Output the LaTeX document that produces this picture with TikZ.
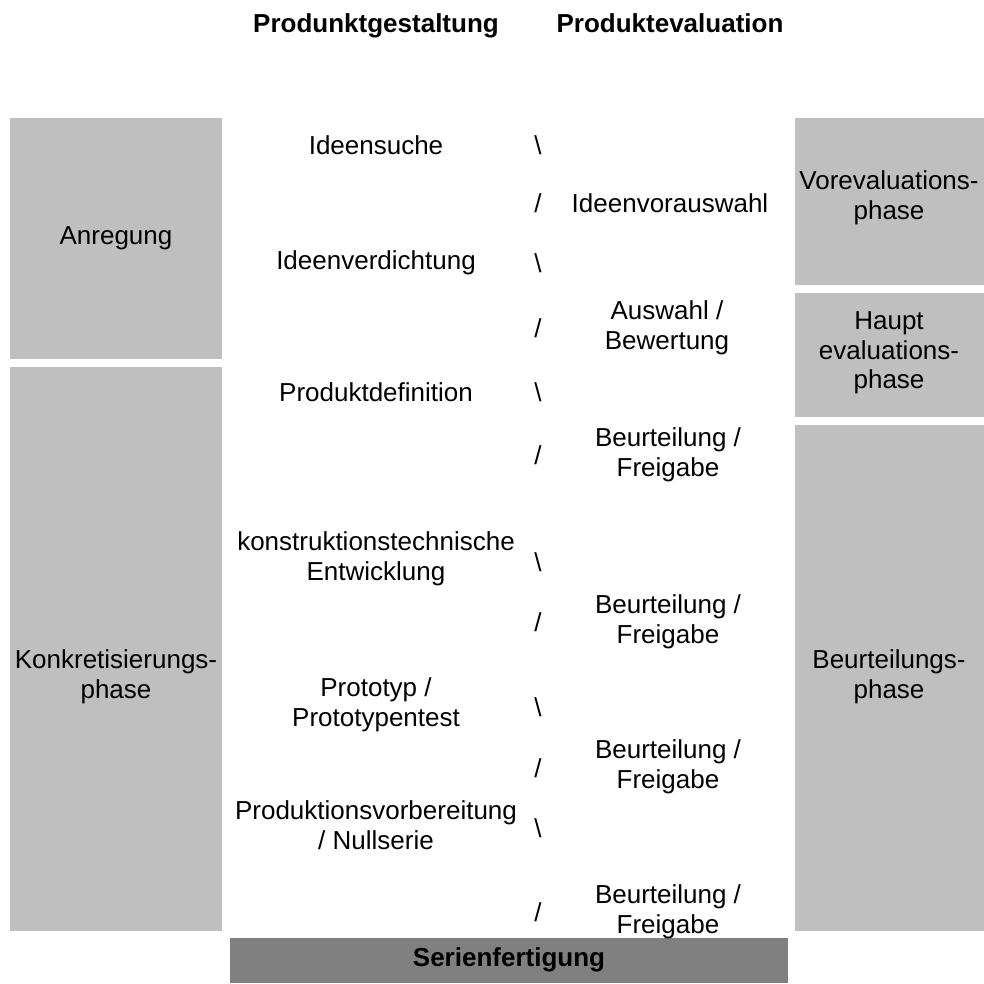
\documentclass[tikz,border=0pt]{standalone}
\usepackage{fontspec}
\setmainfont{Liberation Sans}
\begin{document}
\begin{tikzpicture}[x=1pt,y=-1pt,
  lightbox/.style={fill=black!25, draw=none},
  darkbox/.style={fill=black!50, draw=none},
  lbl/.style={inner sep=0pt, align=center, font=\fontsize{26}{29.5}\selectfont},
  hdr/.style={inner sep=0pt, align=center, font=\fontsize{26}{29.5}\selectfont\bfseries},
  zigmark/.style={inner sep=0pt, font=\fontsize{26}{29.5}\selectfont}]
\useasboundingbox (0,0) rectangle (984,983);

% phase bars, left side
\fill[lightbox] (10,118) rectangle (222,359);
\fill[lightbox] (10,367) rectangle (222,931);
% phase bars, right side
\fill[lightbox] (795,118) rectangle (984,285);
\fill[lightbox] (795,293) rectangle (984,417);
\fill[lightbox] (795,425) rectangle (984,931);
% final stage
\fill[darkbox] (230,938) rectangle (788,983);

% column headings
\node[hdr, anchor=base] (hgest) at (376,32) {Produnktgestaltung};
\node[hdr, anchor=base] (heval) at (670,32) {Produktevaluation};

% phase labels
\node[lbl] (anr) at (116,238) {Anregung};
\node[lbl] (konk) at (116,677) {Konkretisierungs-\\phase};
\node[lbl] (vor) at (889,198) {Vorevaluations-\\phase};
\node[lbl] (haupt) at (889,353) {Haupt\\evaluations-\\phase};
\node[lbl] (beur) at (889,677) {Beurteilungs-\\phase};
\node[hdr] (serie) at (509,960) {Serienfertigung};

% design steps
\node[lbl] (g1) at (376,145) {Ideensuche};
\node[lbl] (g2) at (376,263) {Ideenverdichtung};
\node[lbl] (g3) at (376,392) {Produktdefinition};
\node[lbl] (g4) at (376,559) {konstruktionstechnische\\Entwicklung};
\node[lbl] (g5) at (376,705) {Prototyp /\\Prototypentest};
\node[lbl] (g6) at (376,825) {Produktionsvorbereitung\\/ Nullserie};

% evaluation steps
\node[lbl] (e1) at (670,203) {Ideenvorauswahl};
\node[lbl] (e2) at (667,328) {Auswahl /\\Bewertung};
\node[lbl] (e3) at (668,455) {Beurteilung /\\Freigabe};
\node[lbl] (e4) at (668,622) {Beurteilung /\\Freigabe};
\node[lbl] (e5) at (668,767) {Beurteilung /\\Freigabe};
\node[lbl] (e6) at (668,912) {Beurteilung /\\Freigabe};

% zigzag marks between the two columns
\node[zigmark] (b1) at (538,145) {\textbackslash};
\node[zigmark] (s1) at (538,203) {/};
\node[zigmark] (b2) at (538,263) {\textbackslash};
\node[zigmark] (s2) at (538,328) {/};
\node[zigmark] (b3) at (538,392) {\textbackslash};
\node[zigmark] (s3) at (538,455) {/};
\node[zigmark] (b4) at (538,562) {\textbackslash};
\node[zigmark] (s4) at (538,622) {/};
\node[zigmark] (b5) at (538,707) {\textbackslash};
\node[zigmark] (s5) at (538,768) {/};
\node[zigmark] (b6) at (538,828) {\textbackslash};
\node[zigmark] (s6) at (538,912) {/};
\end{tikzpicture}
\end{document}
